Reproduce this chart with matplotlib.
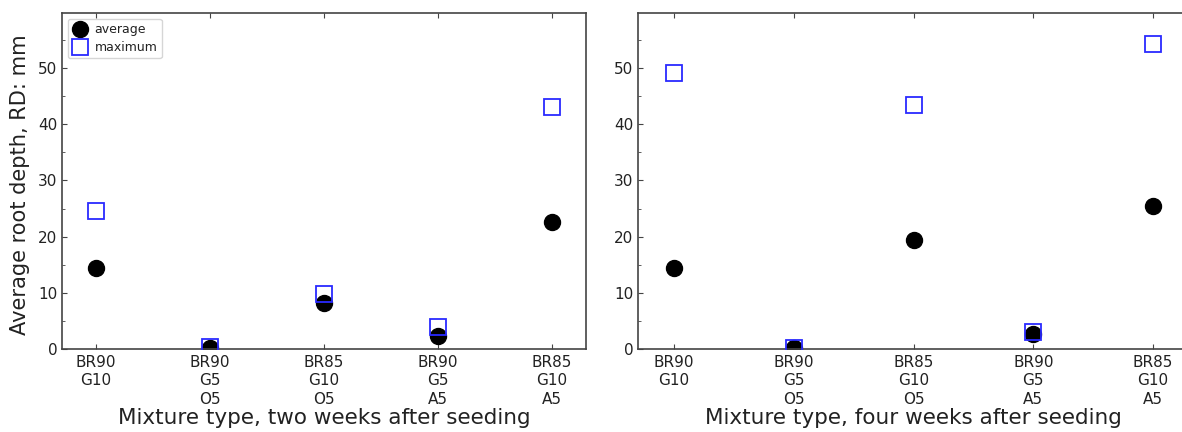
import numpy as np
import matplotlib
matplotlib.use('Agg')
import matplotlib.pyplot as plt
from matplotlib.ticker import MultipleLocator

# mixture labels (same for both panels)
mixtures = ['BR90\nG10', 'BR90\nG5\nO5', 'BR85\nG10\nO5', 'BR90\nG5\nA5', 'BR85\nG10\nA5']

# two weeks after seeding
avg_2w = [14.4, 0.2, 8.1, 2.4, 22.6]
max_2w = [24.6, 0.3, 9.7, 4.0, 43.0]

# four weeks after seeding
avg_4w = [14.4, 0.1, 19.4, 2.6, 25.5]
max_4w = [49.1, 0.2, 43.4, 3.0, 54.2]

plt.rcParams['text.color'] = '#222222'
plt.rcParams['axes.labelcolor'] = '#222222'
plt.rcParams['xtick.labelcolor'] = '#222222'
plt.rcParams['ytick.labelcolor'] = '#222222'
plt.rcParams['xtick.color'] = '#444444'
plt.rcParams['ytick.color'] = '#444444'

fig = plt.figure(figsize=(11.82, 4.32), dpi=100)
ax1 = fig.add_axes([62/1182, 83/432, 524/1182, 336/432])
ax2 = fig.add_axes([638/1182, 83/432, 551/1182, 336/432])

x = np.arange(len(mixtures))

def draw(ax, avg, mx, xlabel):
    ax.plot(x, avg, 'o', color='black', markersize=11.5, label='average', zorder=2)
    ax.plot(x, mx, 's', markerfacecolor='none', markeredgecolor='#2a2aff',
            markeredgewidth=1.3, markersize=12, label='maximum', zorder=3)
    ax.set_xlim(-0.3, 4.3)
    ax.set_ylim(0, 59.8)
    ax.set_xticks(x)
    ax.set_xticklabels(mixtures, fontsize=11, linespacing=1.3)
    ax.yaxis.set_major_locator(MultipleLocator(10))
    ax.yaxis.set_minor_locator(MultipleLocator(5))
    ax.tick_params(axis='y', labelsize=11, direction='in', right=False)
    ax.tick_params(axis='y', which='minor', direction='in', right=False)
    ax.tick_params(axis='x', direction='in', top=True, pad=4)
    ax.set_xlabel(xlabel, fontsize=15.5, labelpad=1)
    for s in ax.spines.values():
        s.set_color('#444444')
        s.set_linewidth(1.2)

draw(ax1, avg_2w, max_2w, 'Mixture type, two weeks after seeding')
draw(ax2, avg_4w, max_4w, 'Mixture type, four weeks after seeding')

ax1.set_ylabel('Average root depth, RD: mm', fontsize=15.1)
ax1.yaxis.set_label_coords(-0.062, 0.49)
ax1.legend(loc='upper left', fontsize=9, markerscale=1.0, handletextpad=0.5,
           borderpad=0.35, labelspacing=0.4, handlelength=1.3, borderaxespad=0.45)

plt.savefig('out.png', dpi=100)
